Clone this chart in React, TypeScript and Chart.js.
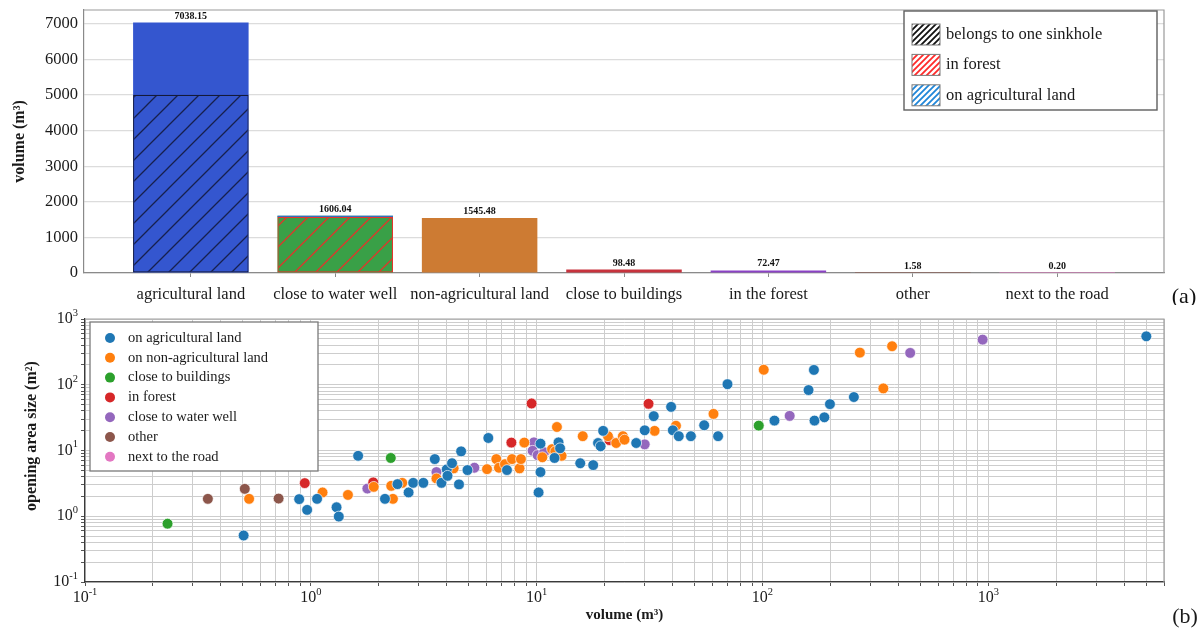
import React, { useEffect, useRef } from 'react';
import { Chart, registerables } from 'chart.js';

Chart.register(...registerables);

const SERIF = '"Liberation Serif", "Times New Roman", serif';

// ---------- (a) volume per location ----------
const locationNames = [
  'agricultural land',
  'close to water well',
  'non-agricultural land',
  'close to buildings',
  'in the forest',
  'other',
  'next to the road',
];
const totalVolumes = [7038.15, 1606.04, 1545.48, 98.48, 72.47, 1.58, 0.2];
const locationColors = ['#3456cf', '#39a047', '#cd7b33', '#c7323d', '#8b42c6', '#8c564b', '#e377c2'];
// hatched parts: [location index, from, to]
const oneSinkholePart = [0, 0, 5010];
const inForestPart = [1, 0, 1578];
const onAgriculturalPart = [1, 1578, 1606.04];
const volumeTicks = [0, 1000, 2000, 3000, 4000, 5000, 6000, 7000];

// ---------- (b) opening area vs volume, [volume m3, area m2] ----------
const agriculturalPts: number[][] = [
  [0.504, 0.51], [0.888, 1.82], [0.963, 1.25], [1.066, 1.84], [1.3, 1.37], [1.33, 0.99],
  [1.62, 8.3], [2.13, 1.84], [2.42, 3.08], [2.71, 2.3], [2.84, 3.22], [3.15, 3.22],
  [3.54, 7.4], [3.79, 3.22], [4.0, 5.16], [4.03, 4.12], [4.22, 6.4], [4.63, 9.7],
  [4.53, 3.05], [4.94, 5.04], [6.11, 15.5], [7.39, 5.04], [10.4, 12.7], [10.4, 4.7],
  [10.2, 2.3], [12.5, 13.3], [12.7, 10.8], [12.0, 7.7], [15.6, 6.4], [17.8, 6.0],
  [18.7, 13.0], [19.2, 11.6], [19.7, 19.9], [27.6, 13.0], [30.1, 20.3], [33.0, 33.3],
  [39.4, 46.1], [40.1, 20.3], [42.6, 16.5], [48.2, 16.5], [55.2, 24.2], [63.6, 16.5],
  [70, 102], [113, 28.5], [160, 83], [169, 168], [170, 28.5], [188, 32], [199, 50.7],
  [254, 65], [5010, 546],
];
const nonAgriculturalPts: number[][] = [
  [0.533, 1.84], [1.127, 2.3], [1.46, 2.11], [1.9, 2.8], [2.31, 1.84], [2.27, 2.9],
  [2.54, 3.22], [3.6, 3.76], [4.29, 5.35], [6.03, 5.2], [6.63, 7.4], [6.81, 5.47],
  [7.24, 6.2], [7.78, 7.4], [8.4, 5.35], [8.52, 7.4], [8.82, 13.2], [10.6, 7.9],
  [12.3, 22.8], [11.7, 10.5], [12.1, 9.7], [12.9, 8.3], [16.0, 16.5], [20.7, 16.5],
  [22.5, 13.0], [24.1, 16.5], [24.5, 14.6], [33.3, 19.9], [41.4, 23.8], [60.7, 36],
  [101.3, 169], [270, 308], [343, 88], [375, 385],
];
const buildingsPts: number[][] = [[0.232, 0.77], [2.26, 7.7], [96.3, 23.9]];
const forestPts: number[][] = [[0.94, 3.19], [1.89, 3.27], [7.73, 13.2], [9.5, 51.9], [21.0, 14.4], [31.3, 51.3]];
const waterWellPts: number[][] = [
  [1.78, 2.64], [3.6, 4.7], [5.3, 5.47], [9.73, 13.3], [9.6, 9.9], [10.1, 8.5],
  [10.8, 9.4], [30.1, 12.4], [132, 33.6], [451, 305], [944, 486],
];
const otherPts: number[][] = [[0.35, 1.84], [0.51, 2.61], [0.72, 1.86]];
const roadPts: number[][] = [];

const scatterLabels = [
  'on agricultural land',
  'on non-agricultural land',
  'close to buildings',
  'in forest',
  'close to water well',
  'other',
  'next to the road',
];
const scatterColors = ['#1f77b4', '#ff7f0e', '#2ca02c', '#d62728', '#9467bd', '#8c564b', '#e377c2'];
const scatterSeries = [agriculturalPts, nonAgriculturalPts, buildingsPts, forestPts, waterWellPts, otherPts, roadPts];

const volumeRange = [0.1, 6000];
const areaRange = [0.1, 1000];

function makeHatch(bg: string | null, line: string, size: number, width: number) {
  const c = document.createElement('canvas');
  c.width = size;
  c.height = size;
  const g = c.getContext('2d')!;
  if (bg) {
    g.fillStyle = bg;
    g.fillRect(0, 0, size, size);
  }
  g.strokeStyle = line;
  g.lineWidth = width;
  g.beginPath();
  g.moveTo(0, size);
  g.lineTo(size, 0);
  g.moveTo(-2, 2);
  g.lineTo(2, -2);
  g.moveTo(size - 2, size + 2);
  g.lineTo(size + 2, size - 2);
  g.stroke();
  return g.createPattern(c, 'repeat')!;
}

function logTicks(min: number, max: number) {
  const out: { value: number; major: boolean }[] = [];
  for (let e = Math.floor(Math.log10(min)); e <= Math.ceil(Math.log10(max)); e++) {
    for (let m = 1; m <= 9; m++) {
      const v = Number((m * Math.pow(10, e)).toPrecision(6));
      if (v >= min * 0.9999 && v <= max * 1.0001) out.push({ value: v, major: m === 1 });
    }
  }
  return out;
}

function drawPower(ctx: CanvasRenderingContext2D, exp: number, x: number, y: number, align: 'center' | 'right') {
  const base = '10';
  const sup = String(exp);
  ctx.font = `16px ${SERIF}`;
  const wb = ctx.measureText(base).width;
  ctx.font = `10.5px ${SERIF}`;
  const ws = ctx.measureText(sup).width;
  const total = wb + ws;
  const x0 = align === 'center' ? x - total / 2 : x - total;
  ctx.textAlign = 'left';
  ctx.textBaseline = 'middle';
  ctx.font = `16px ${SERIF}`;
  ctx.fillText(base, x0, y);
  ctx.font = `10.5px ${SERIF}`;
  ctx.fillText(sup, x0 + wb, y - 6);
}

// keep the plot area exactly where the layout padding puts it
function noScalePadding(s: any) {
  s.paddingTop = 0;
  s.paddingBottom = 0;
  s.paddingLeft = 0;
  s.paddingRight = 0;
}

function BarPanel() {
  const ref = useRef<HTMLCanvasElement>(null);
  useEffect(() => {
    const agriHatch = makeHatch(locationColors[0], '#17204d', 21, 1.3);
    const forestHatch = makeHatch(locationColors[1], '#e0352b', 21, 1.3);
    const swatches = [
      { label: 'belongs to one sinkhole', pat: makeHatch('#ffffff', '#111111', 6, 1.8) },
      { label: 'in forest', pat: makeHatch('#ffffff', '#ff2a2a', 6, 1.8) },
      { label: 'on agricultural land', pat: makeHatch('#ffffff', '#1f86d8', 6, 1.8) },
    ];

    const extras = {
      id: 'barExtras',
      afterDraw(chart: any) {
        const { ctx, chartArea: a } = chart;
        ctx.save();
        // frame on the top and right
        ctx.strokeStyle = '#9a9a9a';
        ctx.lineWidth = 1.2;
        ctx.beginPath();
        ctx.moveTo(a.left, a.top);
        ctx.lineTo(a.right, a.top);
        ctx.lineTo(a.right, a.bottom);
        ctx.stroke();

        // value labels above the bars
        const meta = chart.getDatasetMeta(0);
        ctx.font = `bold 10px ${SERIF}`;
        ctx.fillStyle = '#111';
        ctx.textAlign = 'center';
        ctx.textBaseline = 'bottom';
        meta.data.forEach((el: any, i: number) => {
          ctx.fillText(totalVolumes[i].toFixed(2), el.x, el.y - 1.5);
        });

        // legend
        const lx = 904, ly = 11, lw = 253, lh = 99;
        ctx.fillStyle = '#ffffff';
        ctx.fillRect(lx, ly, lw, lh);
        ctx.strokeStyle = '#5f5f5f';
        ctx.lineWidth = 1.4;
        ctx.strokeRect(lx, ly, lw, lh);
        swatches.forEach((s, i) => {
          const cy = 34.5 + i * 30.4;
          ctx.fillStyle = s.pat;
          ctx.fillRect(912, cy - 10.5, 28, 21);
          ctx.strokeStyle = '#7a7a7a';
          ctx.lineWidth = 1;
          ctx.strokeRect(912, cy - 10.5, 28, 21);
          ctx.fillStyle = '#1a1a1a';
          ctx.font = `16.5px ${SERIF}`;
          ctx.textAlign = 'left';
          ctx.textBaseline = 'middle';
          ctx.fillText(s.label, 946, cy);
        });

        ctx.font = `22px ${SERIF}`;
        ctx.fillStyle = '#111';
        ctx.textAlign = 'center';
        ctx.textBaseline = 'middle';
        ctx.fillText('(a)', 1184, 297);
        ctx.restore();
      },
    };

    const chart = new Chart(ref.current!, {
      type: 'bar',
      data: {
        datasets: [
          {
            label: 'volume',
            data: totalVolumes.map((v, i) => ({ x: i, y: [0, v] })) as any,
            backgroundColor: locationColors,
            borderWidth: 0,
            grouped: false,
            order: 2,
            barPercentage: 0.8,
            categoryPercentage: 1,
          },
          {
            label: 'hatched',
            data: [
              { x: oneSinkholePart[0], y: [oneSinkholePart[1], oneSinkholePart[2]] },
              { x: inForestPart[0], y: [inForestPart[1], inForestPart[2]] },
              { x: onAgriculturalPart[0], y: [onAgriculturalPart[1], onAgriculturalPart[2]] },
            ] as any,
            backgroundColor: [agriHatch, forestHatch, '#2d62e6'],
            borderColor: ['#141a3a', '#e8342b', '#2d62e6'],
            borderWidth: [1.2, 1.2, 0],
            borderSkipped: false,
            grouped: false,
            order: 1,
            barPercentage: 0.8,
            categoryPercentage: 1,
          },
        ],
      },
      options: {
        responsive: false,
        animation: false,
        devicePixelRatio: 1,
        events: [],
        layout: { padding: { top: 10, right: 37, left: 0, bottom: 0 } },
        plugins: { legend: { display: false }, tooltip: { enabled: false } },
        scales: {
          x: {
            type: 'linear',
            min: -0.74,
            max: 6.74,
            offset: false,
            afterBuildTicks: (s: any) => {
              s.ticks = locationNames.map((_, i) => ({ value: i }));
            },
            afterFit: (s: any) => {
              s.height = 32;
              noScalePadding(s);
            },
            ticks: {
              callback: (v: any) => locationNames[Math.round(Number(v))],
              font: { family: SERIF, size: 16.5 },
              color: '#1a1a1a',
              padding: 8,
              maxRotation: 0,
              autoSkip: false,
            },
            grid: { drawOnChartArea: false, drawTicks: true, tickLength: 4, color: '#8a8a8a', offset: false },
            border: { color: '#8a8a8a', width: 1.2 },
          },
          y: {
            type: 'linear',
            min: 0,
            max: 7390,
            stacked: false,
            afterBuildTicks: (s: any) => {
              s.ticks = volumeTicks.map((v) => ({ value: v }));
            },
            afterFit: (s: any) => {
              s.width = 84;
              noScalePadding(s);
            },
            ticks: {
              callback: (v: any) => String(v),
              font: { family: SERIF, size: 16.5 },
              color: '#1a1a1a',
              padding: 6,
            },
            grid: { color: '#dcdcdc', lineWidth: 1.2, drawTicks: false },
            border: { color: '#8a8a8a', width: 1.2 },
            title: {
              display: true,
              text: 'volume (m\u00B3)',
              font: { family: SERIF, size: 16, weight: 'bold' },
              color: '#1a1a1a',
              padding: { top: 10, bottom: 0 },
            },
          },
        },
      } as any,
      plugins: [extras],
    });
    return () => chart.destroy();
  }, []);
  return <canvas ref={ref} width={1201} height={305} style={{ position: 'absolute', left: 0, top: 0, display: 'block' }} />;
}

function ScatterPanel() {
  const ref = useRef<HTMLCanvasElement>(null);
  useEffect(() => {
    const extras = {
      id: 'scatterExtras',
      afterDraw(chart: any) {
        const { ctx, chartArea: a, scales } = chart;
        ctx.save();
        ctx.strokeStyle = '#a0a0a0';
        ctx.lineWidth = 1.2;
        ctx.beginPath();
        ctx.moveTo(a.left, a.top);
        ctx.lineTo(a.right, a.top);
        ctx.lineTo(a.right, a.bottom);
        ctx.stroke();

        ctx.fillStyle = '#1a1a1a';
        // decade labels
        for (let e = -1; e <= 3; e++) {
          const px = scales.x.getPixelForValue(Math.pow(10, e));
          drawPower(ctx, e, px, a.bottom + 16, 'center');
          const py = scales.y.getPixelForValue(Math.pow(10, e));
          drawPower(ctx, e, a.left - 7, py, 'right');
        }

        // axis titles
        ctx.font = `bold 15px ${SERIF}`;
        ctx.textAlign = 'center';
        ctx.textBaseline = 'middle';
        ctx.fillText('volume (m\u00B3)', (a.left + a.right) / 2, a.bottom + 33);
        ctx.save();
        ctx.translate(32, 131);
        ctx.rotate(-Math.PI / 2);
        ctx.font = `bold 16px ${SERIF}`;
        ctx.fillText('opening area size (m\u00B2)', 0, 0);
        ctx.restore();

        // legend
        const lx = 90, ly = 17, lw = 228, lh = 149;
        ctx.fillStyle = '#ffffff';
        ctx.fillRect(lx, ly, lw, lh);
        ctx.strokeStyle = '#7a7a7a';
        ctx.lineWidth = 1.3;
        ctx.strokeRect(lx, ly, lw, lh);
        scatterLabels.forEach((label, i) => {
          const cy = 33 + i * 19.8;
          ctx.beginPath();
          ctx.arc(110, cy, 5, 0, Math.PI * 2);
          ctx.fillStyle = scatterColors[i];
          ctx.fill();
          ctx.fillStyle = '#1a1a1a';
          ctx.font = `14.5px ${SERIF}`;
          ctx.textAlign = 'left';
          ctx.textBaseline = 'middle';
          ctx.fillText(label, 128, cy);
        });

        ctx.font = `22px ${SERIF}`;
        ctx.textAlign = 'center';
        ctx.fillText('(b)', 1185, 312);
        ctx.restore();
      },
    };

    const gridCfg = { color: '#cdcdcd', lineWidth: 1, drawTicks: true, tickLength: 4, tickColor: '#555' };

    const chart = new Chart(ref.current!, {
      type: 'scatter',
      data: {
        datasets: scatterSeries.map((pts, i) => ({
          label: scatterLabels[i],
          data: pts.map(([x, y]) => ({ x, y })),
          backgroundColor: scatterColors[i],
          borderColor: 'rgba(255,255,255,0.85)',
          borderWidth: 0.8,
          pointRadius: 5.4,
        })),
      },
      options: {
        responsive: false,
        animation: false,
        devicePixelRatio: 1,
        events: [],
        layout: { padding: { top: 14, right: 37, left: 0, bottom: 0 } },
        plugins: { legend: { display: false }, tooltip: { enabled: false } },
        scales: {
          x: {
            type: 'logarithmic',
            min: volumeRange[0],
            max: volumeRange[1],
            afterBuildTicks: (s: any) => {
              s.ticks = logTicks(volumeRange[0], volumeRange[1]);
            },
            afterFit: (s: any) => {
              s.height = 50;
              noScalePadding(s);
            },
            ticks: { display: false },
            grid: gridCfg,
            border: { color: '#3a3a3a', width: 1.3 },
          },
          y: {
            type: 'logarithmic',
            min: areaRange[0],
            max: areaRange[1],
            afterBuildTicks: (s: any) => {
              s.ticks = logTicks(areaRange[0], areaRange[1]);
            },
            afterFit: (s: any) => {
              s.width = 85;
              noScalePadding(s);
            },
            ticks: { display: false },
            grid: gridCfg,
            border: { color: '#3a3a3a', width: 1.3 },
          },
        },
      } as any,
      plugins: [extras],
    });
    return () => chart.destroy();
  }, []);
  return <canvas ref={ref} width={1201} height={327} style={{ position: 'absolute', left: 0, top: 305, display: 'block' }} />;
}

export default function App() {
  return (
    <div style={{ position: 'absolute', left: 0, top: 0, width: 1201, height: 632, background: '#ffffff', overflow: 'hidden' }}>
      <BarPanel />
      <ScatterPanel />
    </div>
  );
}
